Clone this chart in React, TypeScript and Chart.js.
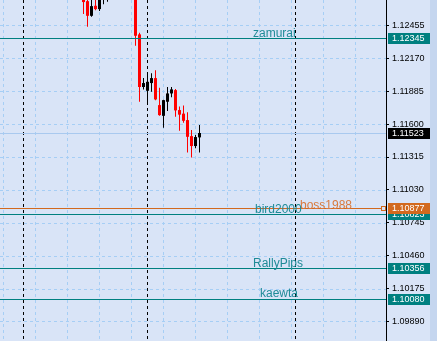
import { useEffect, useRef } from 'react';
import { Chart, registerables } from 'chart.js';

Chart.register(...registerables);

// Hourly candles, one per bar slot (slot 0 = first entry). Slots 7-12 traded above the visible range.
const opens = [
  1.12710, 1.12666, 1.12539, 1.12626, 1.12597, 1.12700, 1.12730,
  1.12770, 1.12800, 1.12785, 1.12760, 1.12795, 1.12765,
  1.12720, 1.12378, 1.11922, 1.11889, 1.11956, 1.11999, 1.11765,
  1.11672, 1.11794, 1.11866, 1.11895, 1.11722, 1.11691, 1.11635,
  1.11496, 1.11410, 1.11485,
];
const highs = [
  1.12744, 1.12692, 1.12684, 1.12684, 1.12710, 1.12770, 1.12790,
  1.12820, 1.12845, 1.12830, 1.12810, 1.12830, 1.12790,
  1.12744, 1.12392, 1.11999, 1.12045, 1.12042, 1.12068, 1.11915,
  1.11812, 1.11921, 1.11921, 1.11904, 1.11752, 1.11761, 1.11704,
  1.11548, 1.11505, 1.11592,
];
const lows = [
  1.12554, 1.12444, 1.12530, 1.12588, 1.12580, 1.12640, 1.12660,
  1.12735, 1.12760, 1.12740, 1.12720, 1.12750, 1.12700,
  1.12279, 1.11794, 1.11901, 1.11785, 1.11880, 1.11808, 1.11672,
  1.11568, 1.11713, 1.11834, 1.11665, 1.11542, 1.11612, 1.11353,
  1.11310, 1.11390, 1.11353,
];
const closes = [
  1.12658, 1.12539, 1.12623, 1.12597, 1.12684, 1.12745, 1.12770,
  1.12800, 1.12785, 1.12760, 1.12795, 1.12765, 1.12720,
  1.12366, 1.11922, 1.11956, 1.11967, 1.11999, 1.11814, 1.11678,
  1.11808, 1.11866, 1.11901, 1.11719, 1.11682, 1.11629, 1.11490,
  1.11410, 1.11488, 1.11523,
];

// Horizontal price levels
const levelNames = ['zamurai', 'boss1988', 'bird2000', 'RallyPips', 'kaewta'];
const levelPrices = [1.12345, 1.10877, 1.10823, 1.10356, 1.10080];
const bidPrice = 1.11523;

const priceTicks = [
  1.0989, 1.10175, 1.1046, 1.10745, 1.1103, 1.11315, 1.116, 1.11885, 1.1217, 1.12455,
];
// Day separators (bar slots)
const separatorSlots = [-15, 16, 53];

const BG = '#d9e4f7';
const FRAME = '#c5d6ef';
const GRID = '#a6cef5';
const BID = '#a9c9ef';
const UP = '#000000';
const DOWN = '#ff0000';
const AXIS_FONT = '"Liberation Sans", Arial, sans-serif';

const levelStyle = [
  { line: '#008080', text: '#1f8b97', tx: 253, dy: -1.5, marker: false },
  { line: '#d2691e', text: '#d97a3e', tx: 300, dy: 0, marker: true },
  { line: '#008080', text: '#1f8b97', tx: 255, dy: -2, marker: false },
  { line: '#008080', text: '#1f8b97', tx: 253, dy: -1.5, marker: false },
  { line: '#008080', text: '#1f8b97', tx: 260, dy: -2.5, marker: false },
];

const backgroundPlugin = {
  id: 'terminalBackground',
  beforeDraw(chart: any) {
    const { ctx, width, height } = chart;
    ctx.save();
    ctx.fillStyle = BG;
    ctx.fillRect(0, 0, width, height);
    ctx.restore();
  },
};

const gridPlugin = {
  id: 'terminalGrid',
  beforeDatasetsDraw(chart: any) {
    const { ctx, chartArea: ca } = chart;
    const x = chart.scales.x;
    const y = chart.scales.y;
    const row = (v: number) => Math.round(y.getPixelForValue(v)) + 0.5;
    const col = (s: number) => Math.round(x.getPixelForValue(s) - 0.5) + 0.5;
    ctx.save();
    ctx.beginPath();
    ctx.rect(ca.left, ca.top, ca.right - ca.left, ca.bottom - ca.top);
    ctx.clip();
    ctx.lineWidth = 1;

    ctx.strokeStyle = GRID;
    ctx.setLineDash([3, 3]);
    ctx.beginPath();
    for (const t of priceTicks) {
      const py = row(t);
      ctx.moveTo(ca.left, py);
      ctx.lineTo(ca.right, py);
    }
    for (let s = -20; x.getPixelForValue(s) < ca.right; s += 8) {
      const px = col(s);
      ctx.moveTo(px, ca.top);
      ctx.lineTo(px, ca.bottom);
    }
    ctx.stroke();

    ctx.strokeStyle = '#000000';
    ctx.setLineDash([3, 3]);
    ctx.beginPath();
    for (const s of separatorSlots) {
      const px = col(s);
      ctx.moveTo(px, ca.top);
      ctx.lineTo(px, ca.bottom);
    }
    ctx.stroke();
    ctx.setLineDash([]);

    // bid line
    ctx.fillStyle = BID;
    ctx.fillRect(ca.left, Math.round(y.getPixelForValue(bidPrice)), ca.right - ca.left, 1);
    ctx.restore();
  },
};

const levelsPlugin = {
  id: 'priceLevels',
  afterDatasetsDraw(chart: any) {
    const { ctx, chartArea: ca } = chart;
    const y = chart.scales.y;
    ctx.save();
    ctx.setLineDash([]);
    levelPrices.forEach((p, i) => {
      const st = levelStyle[i];
      const r = Math.round(y.getPixelForValue(p));
      ctx.fillStyle = st.line;
      const end = st.marker ? ca.right - 5 : ca.right;
      ctx.fillRect(ca.left, r, end - ca.left, 1);
      if (st.marker) {
        ctx.strokeStyle = st.line;
        ctx.lineWidth = 1;
        ctx.strokeRect(ca.right - 4.5, r - 1.5, 4, 4);
      }
      ctx.fillStyle = st.text;
      ctx.font = '12px "Liberation Sans", Arial, sans-serif';
      ctx.textAlign = 'left';
      ctx.textBaseline = 'alphabetic';
      ctx.fillText(levelNames[i], st.tx, r + 0.5 + st.dy);
    });
    ctx.restore();
  },
  afterDraw(chart: any) {
    const { ctx, chartArea: ca } = chart;
    const y = chart.scales.y;
    const drawBox = (price: number, fill: string) => {
      const r = Math.round(y.getPixelForValue(price));
      ctx.fillStyle = fill;
      ctx.fillRect(ca.right + 2, r - 5, 42, 11);
      ctx.fillStyle = '#ffffff';
      ctx.font = `9px ${AXIS_FONT}`;
      ctx.textAlign = 'left';
      ctx.textBaseline = 'middle';
      ctx.fillText(price.toFixed(5), ca.right + 6, r + 0.5);
    };
    ctx.save();
    levelPrices.forEach((p, i) => {
      if (!levelStyle[i].marker) drawBox(p, levelStyle[i].line);
    });
    levelPrices.forEach((p, i) => {
      if (levelStyle[i].marker) drawBox(p, levelStyle[i].line);
    });
    drawBox(bidPrice, '#000000');
    ctx.restore();
  },
};

export default function App() {
  const canvasRef = useRef<HTMLCanvasElement | null>(null);

  useEffect(() => {
    const canvas = canvasRef.current;
    if (!canvas) return;
    const slots = opens.map((_, i) => i);
    const colors = slots.map((i) => (closes[i] >= opens[i] ? UP : DOWN));
    const bodies = slots.map((i) => ({ x: i, y: [opens[i], closes[i]] }));
    const wicks = slots.map((i) => ({ x: i, y: [lows[i], highs[i]] }));

    const chart = new Chart(canvas, {
      type: 'bar',
      data: {
        datasets: [
          {
            label: 'body',
            data: bodies as any,
            backgroundColor: colors,
            borderWidth: 0,
            barThickness: 3,
            maxBarThickness: 3,
            grouped: false,
            inflateAmount: 0,
            clip: 0,
          } as any,
          {
            label: 'wick',
            data: wicks as any,
            backgroundColor: colors,
            borderWidth: 0,
            barThickness: 1,
            maxBarThickness: 1,
            grouped: false,
            inflateAmount: 0,
            clip: 0,
          } as any,
        ],
      },
      options: {
        responsive: false,
        animation: false,
        devicePixelRatio: 1,
        events: [],
        layout: { padding: 0 },
        plugins: {
          legend: { display: false },
          tooltip: { enabled: false },
          title: { display: false },
        },
        scales: {
          x: {
            type: 'linear',
            display: false,
            offset: false,
            min: -20.875,
            max: 75.625,
          },
          y: {
            type: 'linear',
            position: 'right',
            min: 1.0972,
            max: 1.12676,
            afterBuildTicks: (s: any) => {
              s.ticks = priceTicks.map((value) => ({ value }));
            },
            afterFit: (s: any) => {
              s.width = 44;
              s.paddingTop = 0;
              s.paddingBottom = 0;
            },
            ticks: {
              autoSkip: false,
              padding: 3,
              color: '#000000',
              font: { family: AXIS_FONT, size: 9 },
              callback: (v: any) => Number(v).toFixed(5),
            },
            grid: {
              display: true,
              drawOnChartArea: false,
              drawTicks: true,
              tickLength: 3,
              tickColor: '#000000',
              tickWidth: 1,
            },
            border: { display: true, color: '#000000', width: 1 },
          },
        },
      } as any,
      plugins: [backgroundPlugin, gridPlugin, levelsPlugin],
    });
    return () => chart.destroy();
  }, []);

  return (
    <div
      style={{
        position: 'fixed',
        left: 0,
        top: 0,
        width: 437,
        height: 341,
        background: FRAME,
        overflow: 'hidden',
      }}
    >
      <canvas
        ref={canvasRef}
        width={430}
        height={341}
        style={{ display: 'block', width: 430, height: 341 }}
      />
    </div>
  );
}
